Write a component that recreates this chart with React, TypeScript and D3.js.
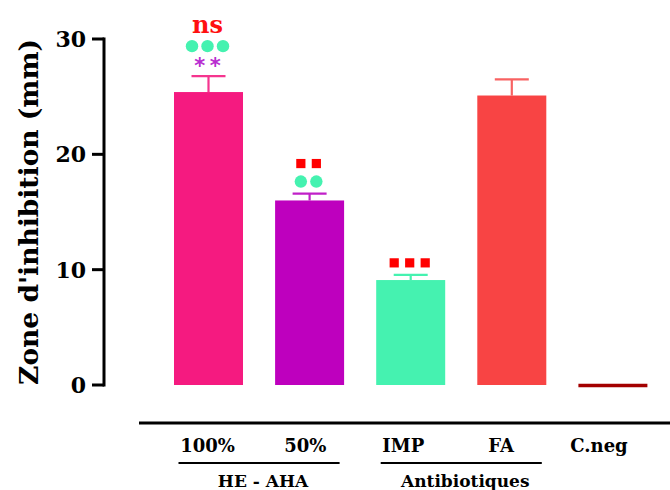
import React from "react";
import * as d3 from "d3";

const categories = ["100%", "50%", "IMP", "FA", "C.neg"];
const means = [25.4, 16.0, 9.1, 25.1, 0];
const errors = [1.38, 0.6, 0.45, 1.4, 0];
const barColors = ["#F51A80", "#BE00BE", "#45F2B0", "#F84444", "#A30000"];
const errColors = ["#F5358F", "#C020C8", "#45F2B0", "#F86262", "#A30000"];
const yTicks = [0, 10, 20, 30];
const groups = [
  { label: "HE - AHA", members: ["100%", "50%"] },
  { label: "Antibiotiques", members: ["IMP", "FA"] },
];
// significance annotations, rows stacked upward from error bar top
const sigMarks = [
  { cat: "100%", rows: [{ kind: "star", n: 2, color: "#B82ED0" }, { kind: "circle", n: 3, color: "#45F2B0" }, { kind: "text", text: "ns", color: "#FF1010" }] },
  { cat: "50%", rows: [{ kind: "circle", n: 2, color: "#45F2B0" }, { kind: "square", n: 2, color: "#FF0000" }] },
  { cat: "IMP", rows: [{ kind: "square", n: 3, color: "#FF0000" }] },
];

const W = 670, H = 490;
const FONT = "'DejaVu Serif', serif";

export default function App() {
  const y = d3.scaleLinear().domain([0, 30]).range([385, 39]);
  const pad = 1 - 69 / 101.1;
  const x = d3.scaleBand<string>().domain(categories).range([157.95, 663.45]).paddingInner(pad).paddingOuter(pad / 2);
  const lx = d3.scalePoint<string>().domain(categories).range([207.5, 599]);
  const bw = x.bandwidth();
  const capW = 34;
  const rowOffsets = [12, 30, 47];
  const spacing = 15.5;

  return (
    <svg width={W} height={H} style={{ position: "absolute", left: 0, top: 0, background: "#fff" }}>
      {/* y axis */}
      <line x1={104} x2={104} y1={y(30) - 1.5} y2={y(0) + 1.5} stroke="#000" strokeWidth={3} />
      {yTicks.map((t) => (
        <g key={t}>
          <line x1={92} x2={104} y1={y(t)} y2={y(t)} stroke="#000" strokeWidth={3} />
          <text x={86} y={y(t)} dy="0.36em" textAnchor="end" fontFamily={FONT} fontWeight="bold" fontSize={22} fill="#000">{t}</text>
        </g>
      ))}
      <text transform={`translate(38,${(y(0) + y(30)) / 2}) rotate(-90)`} textAnchor="middle" fontFamily={FONT} fontWeight="bold" fontSize={26.5} fill="#000">Zone d'inhibition (mm)</text>

      {/* bars */}
      {categories.map((c, i) => {
        const x0 = x(c)!;
        const cx = x0 + bw / 2;
        if (means[i] === 0) {
          return <line key={c} x1={x0} x2={x0 + bw} y1={y(0) + 0.5} y2={y(0) + 0.5} stroke={barColors[i]} strokeWidth={3.5} />;
        }
        const top = y(means[i]);
        const et = y(means[i] + errors[i]);
        return (
          <g key={c}>
            <line x1={cx} x2={cx} y1={top} y2={et} stroke={errColors[i]} strokeWidth={2.2} />
            <line x1={cx - capW / 2} x2={cx + capW / 2} y1={et} y2={et} stroke={errColors[i]} strokeWidth={2.2} />
            <rect x={x0} y={top} width={bw} height={y(0) - top} fill={barColors[i]} />
          </g>
        );
      })}

      {/* significance marks */}
      {sigMarks.map((m) => {
        const i = categories.indexOf(m.cat);
        const cx = x(m.cat)! + bw / 2 - 1;
        const et = y(means[i] + errors[i]);
        return (
          <g key={m.cat}>
            {m.rows.map((r, ri) => {
              const cy = et - rowOffsets[ri];
              if (r.kind === "text") {
                return <text key={ri} x={cx} y={cy + 4} textAnchor="middle" fontFamily={FONT} fontWeight="bold" fontSize={24} fill={r.color}>{r.text}</text>;
              }
              const n = r.n!;
              return (
                <g key={ri}>
                  {d3.range(n).map((k) => {
                    const px = cx + (k - (n - 1) / 2) * spacing;
                    if (r.kind === "circle") return <circle key={k} cx={px} cy={cy} r={6.2} fill={r.color} />;
                    if (r.kind === "square") return <rect key={k} x={px - 4.6} y={cy - 4.6} width={9.2} height={9.2} fill={r.color} />;
                    return <text key={k} x={px} y={cy + 9} textAnchor="middle" fontFamily="'DejaVu Sans', sans-serif" fontWeight="bold" fontSize={21} fill={r.color}>*</text>;
                  })}
                </g>
              );
            })}
          </g>
        );
      })}

      {/* x axis */}
      <line x1={139} x2={W} y1={423} y2={423} stroke="#000" strokeWidth={3} />
      {categories.map((c) => (
        <text key={c} x={lx(c)} y={452} textAnchor="middle" fontFamily={FONT} fontWeight="bold" fontSize={18} fill="#000">{c}</text>
      ))}
      {groups.map((g) => {
        const a = x(g.members[0])! + bw / 2 - 30;
        const b = x(g.members[g.members.length - 1])! + bw / 2 + 30;
        return (
          <g key={g.label}>
            <line x1={a} x2={b} y1={463} y2={463} stroke="#000" strokeWidth={2} />
            <text x={(a + b) / 2 + 4} y={487} textAnchor="middle" fontFamily={FONT} fontWeight="bold" fontSize={17} fill="#000">{g.label}</text>
          </g>
        );
      })}
    </svg>
  );
}
